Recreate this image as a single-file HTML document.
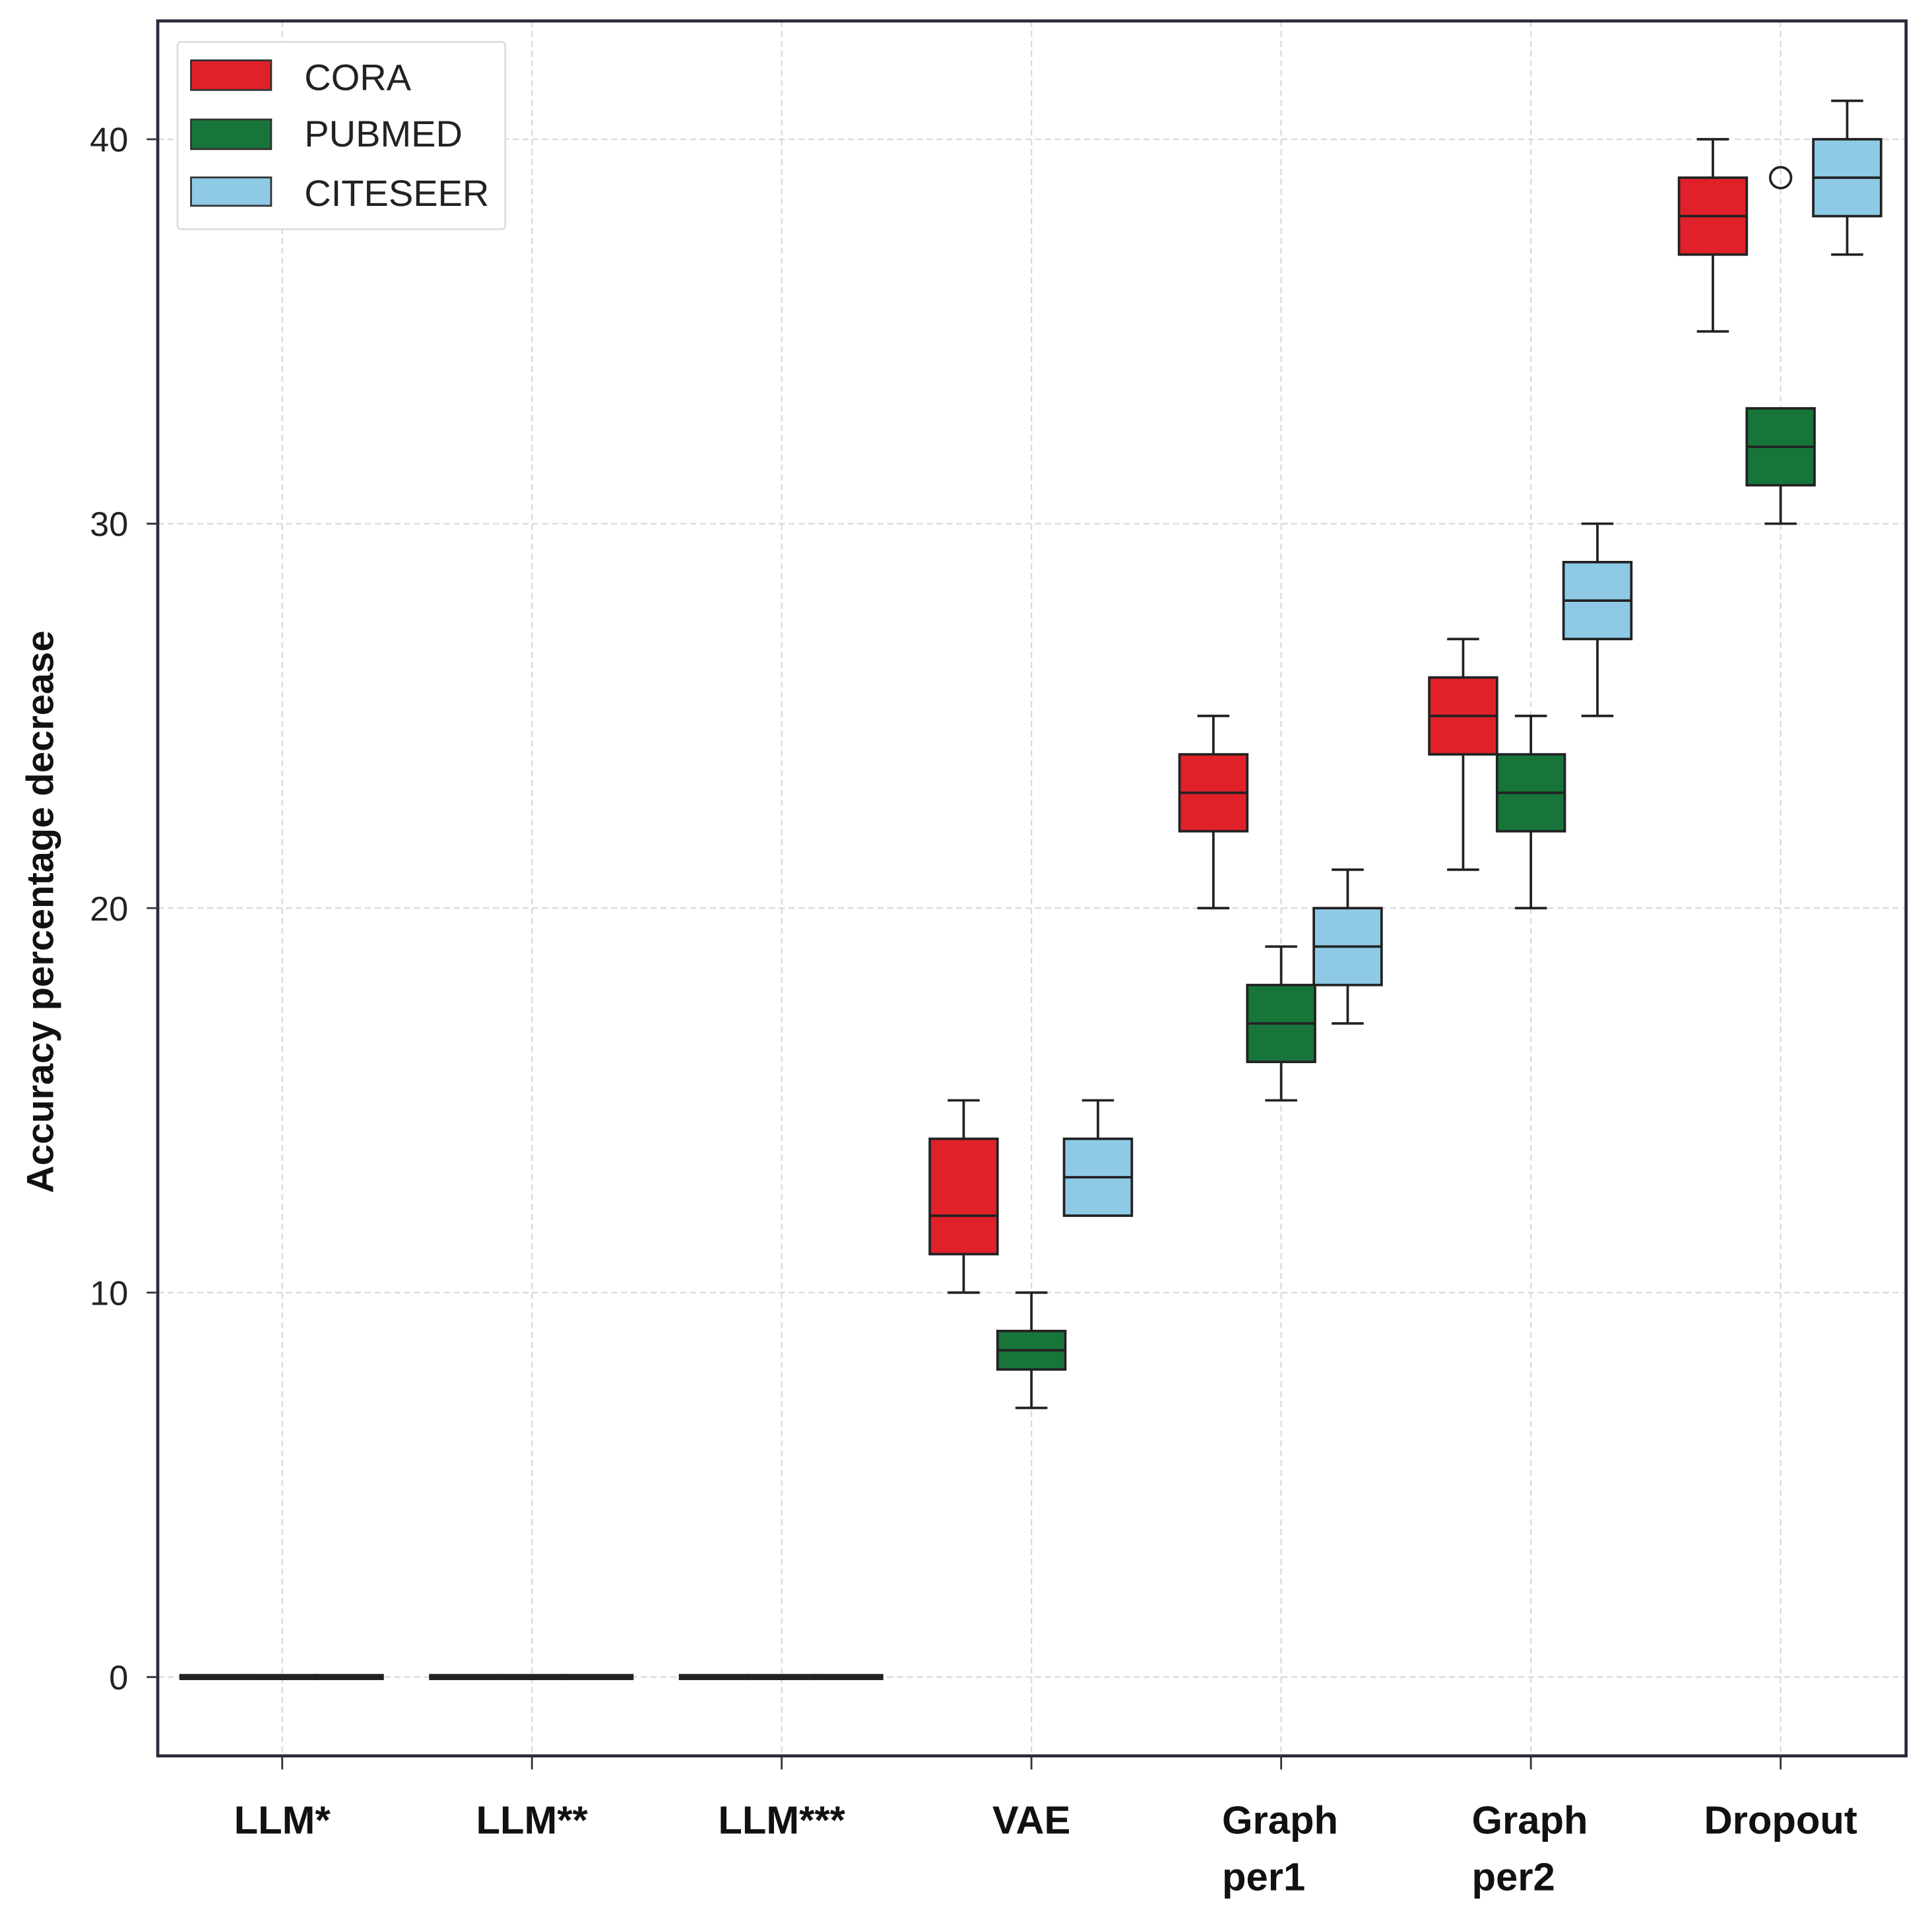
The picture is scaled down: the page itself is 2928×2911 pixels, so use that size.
<!DOCTYPE html>
<html><head><meta charset="utf-8"><style>
html,body{margin:0;padding:0;background:#fff;}
svg{display:block;}
text{font-family:"Liberation Sans","DejaVu Sans",sans-serif;}
</style></head><body>
<svg id="chart" width="2928" height="2911" viewBox="0 0 1568 1559" xmlns="http://www.w3.org/2000/svg">
<g id="grid"></g>
<g id="marks"></g>
<rect x="128" y="17" width="1419" height="1408" fill="none" stroke="#2a2a3a" stroke-width="2.5"/>
<g id="axes"></g>
<text transform="translate(43,740) rotate(-90)" text-anchor="middle" font-size="31" font-weight="bold" fill="#111">Accuracy percentage decrease</text>
<g>
<rect x="144" y="34" width="266" height="152" rx="3" fill="#fff" stroke="#ddd" stroke-width="1.5"/>
<rect x="155" y="49" width="65" height="24" fill="#e0212a" stroke="#333" stroke-width="1.5"/>
<text x="247" y="73" font-size="30" fill="#222">CORA</text>
<rect x="155" y="97" width="65" height="24" fill="#17753a" stroke="#333" stroke-width="1.5"/>
<text x="247" y="119" font-size="30" fill="#222">PUBMED</text>
<rect x="155" y="144" width="65" height="23" fill="#8ecae6" stroke="#333" stroke-width="1.5"/>
<text x="247" y="167" font-size="30" fill="#222">CITESEER</text>
</g>
</svg>
<script>
const categories=[["LLM*"],["LLM**"],["LLM***"],["VAE"],["Graph","per1"],["Graph","per2"],["Dropout"]];
const seriesNames=["CORA","PUBMED","CITESEER"];
const seriesColors=["#e0212a","#17753a","#8ecae6"];
// [whiskLow, q1, median, q3, whiskHigh] per category
const cora=[[0,0,0,0,0],[0,0,0,0,0],[0,0,0,0,0],[10,11,12,14,15],[20,22,23,24,25],[21,24,25,26,27],[35,37,38,39,40]];
const pubmed=[[0,0,0,0,0],[0,0,0,0,0],[0,0,0,0,0],[7,8,8.5,9,10],[15,16,17,18,19],[20,22,23,24,25],[30,31,32,33,33]];
const citeseer=[[0,0,0,0,0],[0,0,0,0,0],[0,0,0,0,0],[12,12,13,14,15],[17,18,19,20,21],[25,27,28,29,30],[37,38,39,40,41]];
const outliers=[{cat:6,series:1,value:39}];
const yTicks=[0,10,20,30,40];

const NS="http://www.w3.org/2000/svg";
const y=v=>1361-31.2*v;
const xc=i=>229+i*202.7;
const off=[-55,0,54], bw=55;
function mk(tag,attrs,parent){const e=document.createElementNS(NS,tag);for(const k in attrs)e.setAttribute(k,attrs[k]);parent.appendChild(e);return e;}
const grid=document.getElementById('grid'),marks=document.getElementById('marks'),axes=document.getElementById('axes');
yTicks.forEach(t=>{
 const g=mk('line',{x1:128,x2:1547,y1:y(t),y2:y(t),stroke:'#d6d9e2','stroke-width':1.2,'stroke-dasharray':'5,3'},grid);
 
 
 const tk=mk('line',{x1:119,x2:128,y1:y(t),y2:y(t),stroke:'#333','stroke-width':1.5},axes);
 
 
 const tx=mk('text',{x:104,y:y(t)+10,'text-anchor':'end','font-size':28,fill:'#222'},axes);
 tx.textContent=t;
 
 
});
categories.forEach((c,i)=>{
 const g=mk('line',{x1:xc(i),x2:xc(i),y1:17,y2:1425,stroke:'#d6d9e2','stroke-width':1.2,'stroke-dasharray':'5,3'},grid);
 
 
 const tk=mk('line',{x1:xc(i),x2:xc(i),y1:1425,y2:1436,stroke:'#333','stroke-width':1.5},axes);
 
 
 c.forEach((ln,j)=>{
  const tx=mk('text',{x:xc(i),y:1488+j*46,'text-anchor':c.length>1?'start':'middle','font-size':32,'font-weight':'bold',fill:'#111'},axes);
  if(c.length>1)tx.setAttribute('x',xc(i)-48);
  tx.textContent=ln;
  
  
 });
});
[cora,pubmed,citeseer].forEach((ser,s)=>{
 ser.forEach((d,i)=>{
  const cx=xc(i)+off[s], l=cx-bw/2;
  const g=mk('g',{},marks);
  
  
  const st={stroke:'#222','stroke-width':2};
  if(d[0]!==d[1])mk('line',Object.assign({x1:cx,x2:cx,y1:y(d[0]),y2:y(d[1])},st),g);
  if(d[4]!==d[3])mk('line',Object.assign({x1:cx,x2:cx,y1:y(d[3]),y2:y(d[4])},st),g);
  if(d[0]!==d[1])mk('line',Object.assign({x1:cx-13,x2:cx+13,y1:y(d[0]),y2:y(d[0])},st),g);
  if(d[4]!==d[3])mk('line',Object.assign({x1:cx-13,x2:cx+13,y1:y(d[4]),y2:y(d[4])},st),g);
  const h=Math.max(y(d[1])-y(d[3]),3);
  mk('rect',{x:l,y:y(d[3])-(d[3]===d[1]?1.5:0),width:bw,height:h,fill:d[3]===d[1]?'#222':seriesColors[s],stroke:'#222','stroke-width':2},g);
  mk('line',Object.assign({x1:l,x2:l+bw,y1:y(d[2]),y2:y(d[2])},st),g);
 });
});
outliers.forEach(o=>{
 const c=mk('circle',{cx:xc(o.cat)+off[o.series],cy:y(o.value),r:8.5,fill:'none',stroke:'#222','stroke-width':2},marks);
 
 
});
</script>
</body></html>
